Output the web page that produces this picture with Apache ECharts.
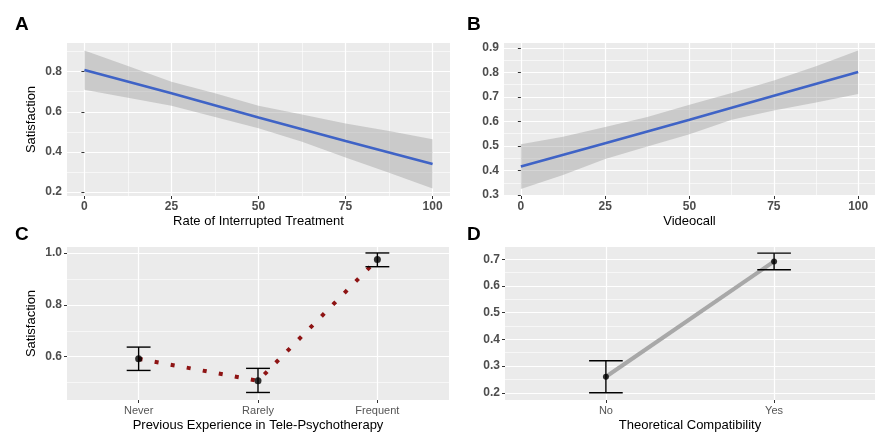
<!DOCTYPE html>
<html>
<head>
<meta charset="utf-8">
<script src="https://cdn.jsdelivr.net/npm/echarts@6/dist/echarts.min.js"></script>
<style>
html, body { margin: 0; padding: 0; background: #fff; }
#main { width: 875px; height: 434px; }
</style>
</head>
<body>
<div id="main"></div>
<script>
// panel A: rate of interrupted treatment (fit + ribbon)
var rateX = [0, 12.5, 25, 37.5, 50, 62.5, 75, 87.5, 100];
var rateLow = [0.71, 0.67, 0.63, 0.574, 0.518, 0.45, 0.372, 0.296, 0.217];
var rateUp = [0.905, 0.828, 0.75, 0.692, 0.63, 0.587, 0.542, 0.504, 0.463];
var rateFitX = [0, 25, 50, 75, 100];
var rateFit = [0.808, 0.692, 0.572, 0.454, 0.339];

// panel B: videocall
var videoX = [0, 12.5, 25, 37.5, 50, 62.5, 75, 87.5, 100];
var videoLow = [0.325, 0.382, 0.447, 0.498, 0.548, 0.607, 0.645, 0.677, 0.712];
var videoUp = [0.507, 0.538, 0.577, 0.618, 0.668, 0.716, 0.767, 0.825, 0.889];
var videoFitX = [0, 25, 50, 75, 100];
var videoFit = [0.416, 0.511, 0.607, 0.705, 0.802];

// panel C: previous experience
var expCats = ['Never', 'Rarely', 'Frequent'];
var expMean = [0.592, 0.507, 0.975];
var expLow = [0.547, 0.462, 0.947];
var expHigh = [0.637, 0.555, 1.0];

// panel D: theoretical compatibility
var compCats = ['No', 'Yes'];
var compMean = [0.26, 0.692];
var compLow = [0.2, 0.661];
var compHigh = [0.32, 0.723];

// tick labels
var pctTicks = [0, 25, 50, 75, 100];
var pctMinor = [12.5, 37.5, 62.5, 87.5];
var yTicksA = [0.2, 0.4, 0.6, 0.8];
var yMinorA = [0.3, 0.5, 0.7, 0.9];
var yTicksB = [0.3, 0.4, 0.5, 0.6, 0.7, 0.8, 0.9];
var yMinorB = [0.35, 0.45, 0.55, 0.65, 0.75, 0.85];
var yTicksC = [0.6, 0.8, 1.0];
var yMinorC = [0.5, 0.7, 0.9];
var yTicksD = [0.2, 0.3, 0.4, 0.5, 0.6, 0.7];
var yMinorD = [0.25, 0.35, 0.45, 0.55, 0.65];

var FONT = 'Liberation Sans, Arial, sans-serif';

function mainAxis(grid, min, max, ticks, fmt, name, gap, bold) {
    return {
        type: 'value', gridIndex: grid, min: min, max: max,
        axisLine: { show: false },
        axisTick: { show: true, customValues: ticks, length: 3, lineStyle: { color: '#333', width: 1 } },
        axisLabel: {
            customValues: ticks, formatter: fmt, margin: 5,
            color: bold ? '#4d4d4d' : '#555', fontWeight: bold ? 'bold' : 'normal',
            fontSize: bold ? 12 : 11, fontFamily: FONT
        },
        splitLine: { show: true, lineStyle: { color: '#fff', width: 1.2 } },
        name: name, nameLocation: 'middle', nameGap: gap,
        nameTextStyle: { color: '#000', fontSize: 13, fontFamily: FONT }
    };
}
function minorAxis(grid, min, max, ticks) {
    return {
        type: 'value', gridIndex: grid, min: min, max: max,
        axisLine: { show: false },
        axisTick: { show: false, customValues: ticks },
        axisLabel: { show: false, customValues: ticks },
        splitLine: { show: true, lineStyle: { color: '#fff', width: 0.6 } }
    };
}
var oneDec = function (v) { return v.toFixed(1); };
var plain = function (v) { return String(v); };
var expFmt = function (v) { return expCats[v - 1]; };
var compFmt = function (v) { return compCats[v - 1]; };

function pairs(xs, ys) { return xs.map(function (x, i) { return [x, ys[i]]; }); }

// confidence ribbon as one polygon, placed through the axes
function band(xi, yi, xs, low, up) {
    return {
        type: 'custom', xAxisIndex: xi, yAxisIndex: yi, silent: true, z: 2,
        encode: { x: 0, y: [1, 2] },
        data: xs.map(function (x, i) { return [x, low[i], up[i]]; }),
        renderItem: function (params, api) {
            if (params.dataIndex !== 0) return;
            var top = xs.map(function (x, i) { return api.coord([x, up[i]]); });
            var bot = xs.map(function (x, i) { return api.coord([x, low[i]]); }).reverse();
            return { type: 'polygon', shape: { points: top.concat(bot) },
                     style: { fill: 'rgba(153,153,153,0.4)' } };
        }
    };
}
function fit(xi, yi, xs, ys) {
    return { type: 'line', xAxisIndex: xi, yAxisIndex: yi, data: pairs(xs, ys), symbol: 'none',
             lineStyle: { color: '#3f63c6', width: 2.6 }, z: 3 };
}
function errRender(params, api) {
    var x = api.value(0);
    var lo = api.coord([x, api.value(1)]);
    var hi = api.coord([x, api.value(2)]);
    var hw = api.size([0.2, 0])[0] / 2;
    var st = { stroke: '#000', lineWidth: 1.4 };
    return {
        type: 'group',
        children: [
            { type: 'line', shape: { x1: lo[0], y1: lo[1], x2: hi[0], y2: hi[1] }, style: st },
            { type: 'line', shape: { x1: lo[0] - hw, y1: lo[1], x2: lo[0] + hw, y2: lo[1] }, style: st },
            { type: 'line', shape: { x1: hi[0] - hw, y1: hi[1], x2: hi[0] + hw, y2: hi[1] }, style: st }
        ]
    };
}
function errBars(xi, yi, lows, highs) {
    return { type: 'custom', xAxisIndex: xi, yAxisIndex: yi, renderItem: errRender,
             encode: { x: 0, y: [1, 2] }, z: 4,
             data: lows.map(function (l, i) { return [i + 1, l, highs[i]]; }) };
}
function dots(xi, yi, means, size) {
    return { type: 'scatter', xAxisIndex: xi, yAxisIndex: yi, symbolSize: size, z: 5,
             itemStyle: { color: '#000' },
             data: means.map(function (m, i) { return [i + 1, m]; }) };
}

var letter = function (t, x, y) {
    return { text: t, left: x, top: y, textStyle: { fontSize: 19, fontWeight: 'bold', color: '#000', fontFamily: FONT } };
};

var option = {
    animation: false,
    title: [letter('A', 10, 10), letter('B', 462, 10), letter('C', 10, 220), letter('D', 462, 220)],
    grid: [
        { left: 67, top: 43, width: 383, height: 153, show: true, backgroundColor: '#ebebeb', borderWidth: 0 },
        { left: 504, top: 43, width: 382, height: 153, show: true, backgroundColor: '#ebebeb', borderWidth: 0 },
        { left: 67, top: 247, width: 382, height: 153, show: true, backgroundColor: '#ebebeb', borderWidth: 0 },
        { left: 505, top: 247, width: 382, height: 153, show: true, backgroundColor: '#ebebeb', borderWidth: 0 }
    ],
    xAxis: [
        mainAxis(0, -5, 105, pctTicks, plain, 'Rate of Interrupted Treatment', 19, true),
        minorAxis(0, -5, 105, pctMinor),
        mainAxis(1, -5, 105, pctTicks, plain, 'Videocall', 19, true),
        minorAxis(1, -5, 105, pctMinor),
        mainAxis(2, 0.4, 3.6, [1, 2, 3], expFmt, 'Previous Experience in Tele-Psychotherapy', 19, false),
        mainAxis(3, 0.4, 2.6, [1, 2], compFmt, 'Theoretical Compatibility', 19, false)
    ],
    yAxis: [
        mainAxis(0, 0.18, 0.943, yTicksA, oneDec, 'Satisfaction', 29, true),
        minorAxis(0, 0.18, 0.943, yMinorA),
        mainAxis(1, 0.296, 0.92, yTicksB, oneDec, '', 29, true),
        minorAxis(1, 0.296, 0.92, yMinorB),
        mainAxis(2, 0.433, 1.023, yTicksC, oneDec, 'Satisfaction', 29, true),
        minorAxis(2, 0.433, 1.023, yMinorC),
        mainAxis(3, 0.173, 0.746, yTicksD, oneDec, '', 29, true),
        minorAxis(3, 0.173, 0.746, yMinorD)
    ],
    series: [
        band(0, 0, rateX, rateLow, rateUp),
        fit(0, 0, rateFitX, rateFit),
        band(2, 2, videoX, videoLow, videoUp),
        fit(2, 2, videoFitX, videoFit),
        { type: 'line', xAxisIndex: 4, yAxisIndex: 4, symbol: 'none', z: 3,
          data: expMean.map(function (m, i) { return [i + 1, m]; }),
          lineStyle: { color: '#8e1414', width: 4, type: [4, 12.3], cap: 'butt' } },
        errBars(4, 4, expLow, expHigh),
        dots(4, 4, expMean, 7),
        { type: 'line', xAxisIndex: 5, yAxisIndex: 6, symbol: 'none', z: 3,
          data: compMean.map(function (m, i) { return [i + 1, m]; }),
          lineStyle: { color: '#a8a8a8', width: 4 } },
        errBars(5, 6, compLow, compHigh),
        dots(5, 6, compMean, 6)
    ]
};

var chart = echarts.init(document.getElementById('main'));
chart.setOption(option);
</script>
</body>
</html>
